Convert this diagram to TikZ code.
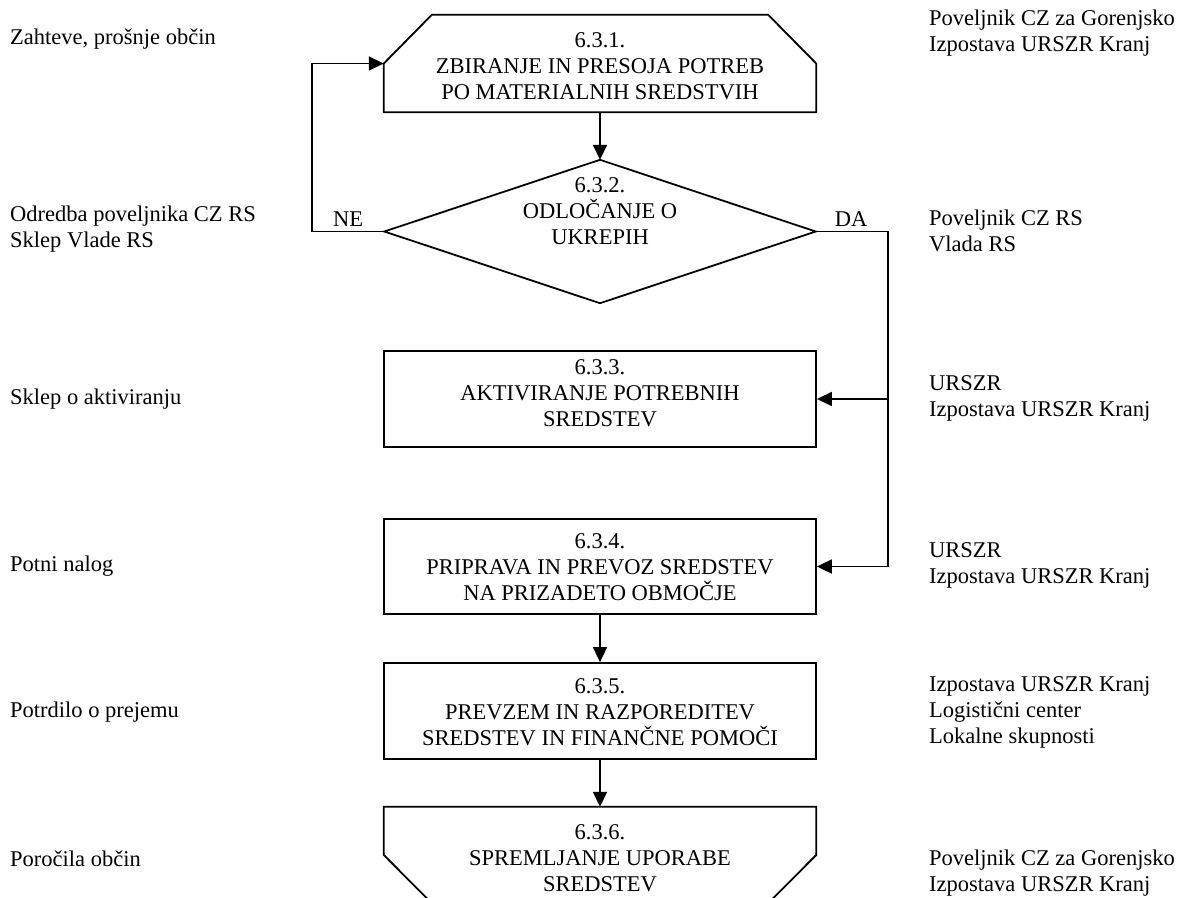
\documentclass[tikz,border=0pt]{standalone}
\usepackage{fontspec}
\setmainfont{Liberation Serif}
\usetikzlibrary{arrows.meta}
\begin{document}
\begin{tikzpicture}[x=1pt,y=-1pt,
  txt/.style={font=\fontsize{22.5}{26}\selectfont},
  lbl/.style={txt,anchor=west,align=left,inner sep=0pt},
  ctxt/.style={txt,align=center,inner sep=0pt},
  frame/.style={minimum width=432pt,inner sep=0pt},
  ln/.style={line width=1.8pt},
  arr/.style={ln,-{Triangle[length=15pt,width=14pt]}}]
\clip (0,0) rectangle (1182,897);
\useasboundingbox (0,0) rectangle (1182,897);
% process shapes
\node[frame,minimum height=97pt] (b1) at (600,63.5) {};
\draw[ln] (b1.west) -- ([xshift=48pt]b1.north west) -- ([xshift=-48pt]b1.north east) -- (b1.east) -- (b1.south east) -- (b1.south west) -- cycle;
\node[minimum width=431pt,minimum height=143pt,inner sep=0pt] (d2) at (600,231.5) {};
\draw[ln] (d2.north) -- (d2.east) -- (d2.south) -- (d2.west) -- cycle;
\node[frame,draw,ln,minimum height=96pt] (b3) at (600,399) {};
\node[frame,draw,ln,minimum height=95pt] (b4) at (600,566.5) {};
\node[frame,draw,ln,minimum height=96pt] (b5) at (600,711) {};
\node[frame,minimum height=96pt] (b6) at (600,855) {};
\draw[ln] (b6.west) -- (b6.north west) -- (b6.north east) -- (b6.east) -- ([xshift=-48pt]b6.south east) -- ([xshift=48pt]b6.south west) -- cycle;
% texts of the shapes
\node[ctxt] (t1) at (600,66) {6.3.1.\\ZBIRANJE IN PRESOJA POTREB\\PO MATERIALNIH SREDSTVIH};
\node[ctxt] (t2) at (600,211) {6.3.2.\\ODLOČANJE O\\UKREPIH};
\node[ctxt] (t3) at (600,393) {6.3.3.\\AKTIVIRANJE POTREBNIH\\SREDSTEV};
\node[ctxt] (t4) at (600,567) {6.3.4.\\PRIPRAVA IN PREVOZ SREDSTEV\\NA PRIZADETO OBMOČJE};
\node[ctxt] (t5) at (600,712) {6.3.5.\\PREVZEM IN RAZPOREDITEV\\SREDSTEV IN FINANČNE POMOČI};
\node[ctxt] (t6) at (600,858) {6.3.6.\\SPREMLJANJE UPORABE\\SREDSTEV};
% connectors
\draw[arr] (b1.south) -- (d2.north);
\draw[arr] (d2.west) -- ++(-72,0) |- (b1.west);
\draw[arr] (d2.east) -- ++(72,0) coordinate (j) |- (b4.east);
\draw[arr] (j |- b3.east) -- (b3.east);
\draw[arr] (b4.south) -- (b5.north);
\draw[arr] (b5.south) -- (b6.north);
\node[txt,inner sep=0pt] (ne) at (348,219) {NE};
\node[txt,inner sep=0pt] (da) at (851,219) {DA};
% left labels
\node[lbl] (l1) at (10,39) {Zahteve, prošnje občin};
\node[lbl] (l2) at (10,229) {Odredba poveljnika CZ RS\\Sklep Vlade RS};
\node[lbl] (l3) at (10,399) {Sklep o aktiviranju};
\node[lbl] (l4) at (10,566) {Potni nalog};
\node[lbl] (l5) at (10,712) {Potrdilo o prejemu};
\node[lbl] (l6) at (10,859) {Poročila občin};
% right labels
\node[lbl] (r1) at (929,33) {Poveljnik CZ za Gorenjsko\\Izpostava URSZR Kranj};
\node[lbl] (r2) at (929,231) {Poveljnik CZ RS\\Vlada RS};
\node[lbl] (r3) at (929,398) {URSZR\\Izpostava URSZR Kranj};
\node[lbl] (r4) at (929,565) {URSZR\\Izpostava URSZR Kranj};
\node[lbl] (r5) at (929,712) {Izpostava URSZR Kranj\\Logistični center\\Lokalne skupnosti};
\node[lbl] (r6) at (929,873) {Poveljnik CZ za Gorenjsko\\Izpostava URSZR Kranj};
\end{tikzpicture}
\end{document}
